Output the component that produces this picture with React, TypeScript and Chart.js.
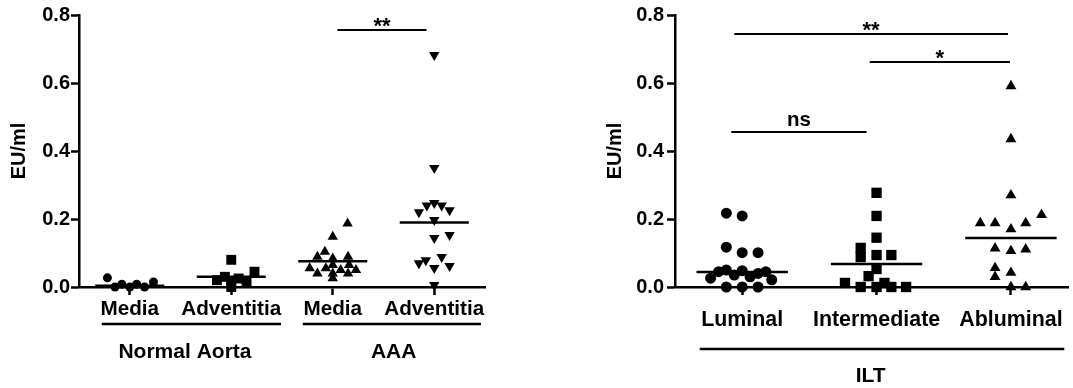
import React, { useEffect, useRef } from 'react';
import { Chart, registerables } from 'chart.js';

Chart.register(...registerables);

const FONT = "'Liberation Sans', Arial, Helvetica, sans-serif";
const INK = '#000';

// ---------- tick labels ----------
const yTickValues = [0, 0.2, 0.4, 0.6, 0.8];
const leftCats = ['Media', 'Adventitia', 'Media', 'Adventitia'];
const rightCats = ['Luminal', 'Intermediate', 'Abluminal'];

// ---------- left panel: Normal Aorta / AAA ----------
const naMediaY = [0.027, 0, 0.008, 0, 0.008, 0, 0.015];
const naMediaDx = [-0.22, -0.146, -0.078, 0, 0.068, 0.146, 0.234];

const naAdvY = [0.02, 0.03, 0.015, 0.0, 0.025, 0.015, 0.045, 0.08];
const naAdvDx = [-0.141, -0.063, 0, 0, 0.073, 0.151, 0.229, 0];

const aaaMediaY = [0.187, 0.148, 0.104, 0.089, 0.084, 0.089, 0.055, 0.04, 0.055, 0.065, 0.04, 0.05, 0.04, 0.05, 0.026, 0.065];
const aaaMediaDx = [0.146, 0, -0.078, -0.151, 0, 0.151, -0.227, -0.151, -0.068, 0, 0, 0.078, 0.151, 0.229, 0, 0.161];

const aaaAdvY = [0.682, 0.35, 0.22, 0.24, 0.247, 0.24, 0.226, 0.197, 0.144, 0.153, 0.07, 0.079, 0.088, 0.056, 0.062, 0.006];
const aaaAdvDx = [0, 0, -0.151, -0.073, 0, 0.073, 0.151, 0, 0, 0.151, -0.151, -0.083, 0.073, 0, 0.151, 0];

const leftMedians = [0.004, 0.03, 0.076, 0.19];

// significance bars: x1, x2, y, label
const leftSigX1 = [3.046];
const leftSigX2 = [3.924];
const leftSigY = [0.756];
const leftSigLabel = ['**'];

const leftGroupLabels = ['Normal Aorta', 'AAA'];
const leftGroupFrom = [0.724, 2.705];
const leftGroupTo = [2.49, 4.46];
const leftGroupLabelX = [1.544, 3.6];

// ---------- right panel: ILT ----------
const lumY = [0.217, 0.209, 0.117, 0.101, 0.101, 0.026, 0.045, 0.05, 0.035, 0.048, 0.03, 0.04, 0.045, 0.021, 0, 0, 0];
const lumDx = [-0.118, 0, -0.118, 0, 0.118, -0.235, -0.176, -0.118, -0.059, 0, 0.059, 0.118, 0.176, 0.22, -0.118, 0, 0.118];

const intY = [0.277, 0.209, 0.145, 0.115, 0.088, 0.094, 0.094, 0.053, 0.032, 0.012, 0, 0, 0.012, 0, 0];
const intDx = [0, 0, 0, -0.118, -0.118, 0, 0.11, 0, -0.059, -0.235, -0.118, 0, 0.059, 0.11, 0.22];

const ablY = [0.591, 0.435, 0.27, 0.188, 0.188, 0.17, 0.188, 0.212, 0.114, 0.106, 0.111, 0.056, 0.03, 0.042, 0, 0];
const ablDx = [0, 0, 0, -0.228, -0.118, 0, 0.11, 0.228, -0.118, 0, 0.11, -0.118, -0.118, 0, 0, 0.11];

const rightMedians = [0.044, 0.068, 0.144];

const rightSigX1 = [0.941, 1.949, 0.919];
const rightSigX2 = [2.978, 2.993, 1.926];
const rightSigY = [0.744, 0.662, 0.456];
const rightSigLabel = ['**', '*', 'ns'];

const rightGroupLabels = ['ILT'];
const rightGroupFrom = [0.684];
const rightGroupTo = [3.397];
const rightGroupLabelX = [1.956];

// ---------- helpers ----------
const pts = (cat: number, dx: number[], ys: number[]) => ys.map((v, i) => ({ x: cat + dx[i], y: v }));

const pointSet = (data: any[], style: string, r: number, rotation = 0) => ({
  data,
  pointStyle: style,
  pointRadius: r,
  pointHoverRadius: r,
  pointRotation: rotation,
  pointBackgroundColor: INK,
  pointBorderColor: INK,
  pointBorderWidth: 0,
  showLine: false,
  clip: false as any,
});

const segSet = (x1: number, x2: number, y: number, w: number) => ({
  data: [{ x: x1, y }, { x: x2, y }],
  showLine: true,
  borderColor: INK,
  borderWidth: w,
  pointRadius: 0,
  pointHoverRadius: 0,
  clip: false as any,
});

interface PanelCfg {
  cats: string[];
  xMin: number;
  xMax: number;
  yAxisWidth: number;
  titlePad: number;
  yTickPad: number;
  xTickPad: number;
  xFontSize: number;
  datasets: any[];
  sigX1: number[];
  sigX2: number[];
  sigY: number[];
  sigLabel: string[];
  groupLabels: string[];
  groupFrom: number[];
  groupTo: number[];
  groupLabelX: number[];
  groupLineDy: number;
  groupLabelDy: number;
}

function makeChart(canvas: HTMLCanvasElement, cfg: PanelCfg) {
  const annot = {
    id: 'annot',
    afterDatasetsDraw(chart: any) {
      const ctx = chart.ctx as CanvasRenderingContext2D;
      const xs = chart.scales.x;
      const ys = chart.scales.y;
      const bottom = chart.chartArea.bottom;
      ctx.save();
      ctx.fillStyle = INK;
      ctx.strokeStyle = INK;
      ctx.textAlign = 'center';
      ctx.textBaseline = 'alphabetic';
      cfg.sigLabel.forEach((lab, i) => {
        const cx = (xs.getPixelForValue(cfg.sigX1[i]) + xs.getPixelForValue(cfg.sigX2[i])) / 2;
        const by = ys.getPixelForValue(cfg.sigY[i]);
        const star = lab.includes('*');
        ctx.font = `bold ${star ? 22 : 20.5}px ${FONT}`;
        ctx.fillText(lab, cx, star ? by + 3 : by - 6);
      });
      ctx.lineWidth = 2.5;
      ctx.font = `bold 21px ${FONT}`;
      ctx.textBaseline = 'middle';
      cfg.groupLabels.forEach((lab, i) => {
        const x1 = xs.getPixelForValue(cfg.groupFrom[i]);
        const x2 = xs.getPixelForValue(cfg.groupTo[i]);
        const ly = bottom + cfg.groupLineDy;
        ctx.beginPath();
        ctx.moveTo(x1, ly);
        ctx.lineTo(x2, ly);
        ctx.stroke();
        ctx.fillText(lab, xs.getPixelForValue(cfg.groupLabelX[i]), bottom + cfg.groupLabelDy);
      });
      ctx.restore();
    },
  };

  return new Chart(canvas, {
    type: 'scatter',
    data: { datasets: cfg.datasets },
    plugins: [annot],
    options: {
      responsive: false,
      animation: false,
      devicePixelRatio: 1,
      events: [],
      layout: { padding: { top: 15, left: 0, right: 0, bottom: 0 } },
      plugins: { legend: { display: false }, tooltip: { enabled: false } },
      scales: {
        x: {
          type: 'linear',
          min: cfg.xMin,
          max: cfg.xMax,
          afterBuildTicks: (s: any) => {
            s.ticks = cfg.cats.map((_, i) => ({ value: i + 1 }));
          },
          afterFit: (s: any) => {
            s.height = 101;
          },
          ticks: {
            autoSkip: false,
            maxRotation: 0,
            padding: cfg.xTickPad,
            color: INK,
            font: { family: FONT, size: cfg.xFontSize, weight: 'bold' },
            callback: (_v: any, i: number) => cfg.cats[i],
          },
          grid: {
            drawOnChartArea: false,
            drawTicks: true,
            tickLength: 8,
            tickColor: INK,
            tickWidth: 2.5,
            color: INK,
          },
          border: { display: true, color: INK, width: 2.5 },
        },
        y: {
          type: 'linear',
          min: 0,
          max: 0.8,
          afterBuildTicks: (s: any) => {
            s.ticks = yTickValues.map((v) => ({ value: v }));
          },
          afterFit: (s: any) => {
            s.width = cfg.yAxisWidth;
          },
          ticks: {
            padding: cfg.yTickPad,
            color: INK,
            font: { family: FONT, size: 20, weight: 'bold' },
            callback: (v: any) => Number(v).toFixed(1),
          },
          grid: {
            drawOnChartArea: false,
            drawTicks: true,
            tickLength: 8,
            tickColor: INK,
            tickWidth: 2.5,
            color: INK,
          },
          border: { display: true, color: INK, width: 2.5 },
          title: {
            display: true,
            text: 'EU/ml',
            color: INK,
            font: { family: FONT, size: 20, weight: 'bold' },
            padding: { top: cfg.titlePad, bottom: 0 },
          },
        },
      },
    } as any,
  });
}

export default function App() {
  const leftRef = useRef<HTMLCanvasElement>(null);
  const rightRef = useRef<HTMLCanvasElement>(null);

  useEffect(() => {
    const leftDatasets: any[] = [
      pointSet(pts(1, naMediaDx, naMediaY), 'circle', 4.5),
      pointSet(pts(2, naAdvDx, naAdvY), 'rect', 7),
      pointSet(pts(3, aaaMediaDx, aaaMediaY), 'triangle', 6),
      pointSet(pts(4, aaaAdvDx, aaaAdvY), 'triangle', 6, 180),
      ...leftMedians.map((m, i) => segSet(i + 1 - 0.34, i + 1 + 0.34, m, 2.5)),
      ...leftSigY.map((y, i) => segSet(leftSigX1[i], leftSigX2[i], y, 2)),
    ];
    const rightDatasets: any[] = [
      pointSet(pts(1, lumDx, lumY), 'circle', 5.5),
      pointSet(pts(2, intDx, intY), 'rect', 7.3),
      pointSet(pts(3, ablDx, ablY), 'triangle', 6.3),
      ...rightMedians.map((m, i) => segSet(i + 1 - 0.34, i + 1 + 0.34, m, 2.5)),
      ...rightSigY.map((y, i) => segSet(rightSigX1[i], rightSigX2[i], y, 2)),
    ];

    const c1 = makeChart(leftRef.current!, {
      cats: leftCats,
      xMin: 0.5,
      xMax: 4.5,
      yAxisWidth: 79,
      titlePad: 7,
      yTickPad: 1,
      xTickPad: 2,
      xFontSize: 20.7,
      datasets: leftDatasets,
      sigX1: leftSigX1,
      sigX2: leftSigX2,
      sigY: leftSigY,
      sigLabel: leftSigLabel,
      groupLabels: leftGroupLabels,
      groupFrom: leftGroupFrom,
      groupTo: leftGroupTo,
      groupLabelX: leftGroupLabelX,
      groupLineDy: 37,
      groupLabelDy: 65,
    });
    const c2 = makeChart(rightRef.current!, {
      cats: rightCats,
      xMin: 0.5,
      xMax: 3.43,
      yAxisWidth: 75,
      titlePad: 3,
      yTickPad: 3,
      xTickPad: 12,
      xFontSize: 21.4,
      datasets: rightDatasets,
      sigX1: rightSigX1,
      sigX2: rightSigX2,
      sigY: rightSigY,
      sigLabel: rightSigLabel,
      groupLabels: rightGroupLabels,
      groupFrom: rightGroupFrom,
      groupTo: rightGroupTo,
      groupLabelX: rightGroupLabelX,
      groupLineDy: 62,
      groupLabelDy: 89,
    });
    return () => {
      c1.destroy();
      c2.destroy();
    };
  }, []);

  return (
    <div
      style={{
        position: 'fixed',
        left: 0,
        top: 0,
        width: 1073,
        height: 388,
        overflow: 'hidden',
        background: '#fff',
      }}
    >
      <canvas
        ref={leftRef}
        width={492}
        height={388}
        style={{ position: 'absolute', left: 0, top: 0, width: 492, height: 388 }}
      />
      <canvas
        ref={rightRef}
        width={476}
        height={388}
        style={{ position: 'absolute', left: 600, top: 0, width: 476, height: 388 }}
      />
    </div>
  );
}
